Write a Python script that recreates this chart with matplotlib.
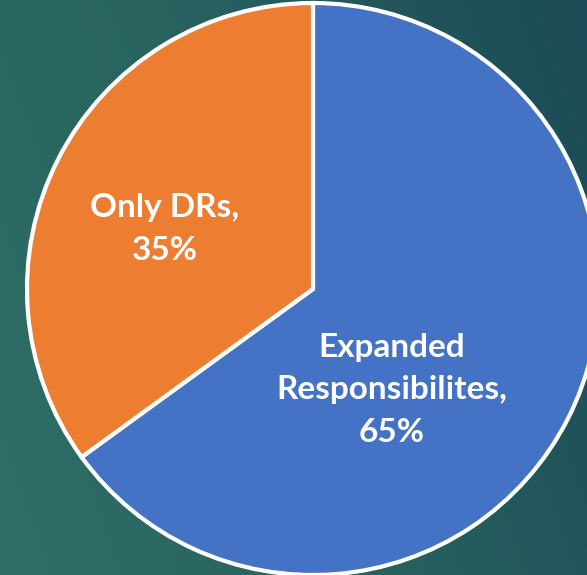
import numpy as np
import matplotlib
matplotlib.use('Agg')
import matplotlib.pyplot as plt
from matplotlib.colors import LinearSegmentedColormap

labels = ['Expanded\nResponsibilites,', 'Only DRs,']
shares = [65, 35]
colors = ['#4472C4', '#ED7D31']

W, H = 587, 575
fig = plt.figure(figsize=(W / 100, H / 100), dpi=100)

# background gradient, lighter teal at left going darker to upper right
bg = fig.add_axes([0, 0, 1, 1])
xx, yy = np.meshgrid(np.linspace(0, 1, 300), np.linspace(0, 1, 300))
grad = 0.75 * xx + 0.25 * (1 - yy)
cmap = LinearSegmentedColormap.from_list('bg', ['#2f6e66', '#27615f', '#1c4a56'])
bg.imshow(grad, cmap=cmap, aspect='auto', extent=[0, 1, 0, 1], origin='upper')
bg.axis('off')

# pie axes: centre at (313, 289) px, radius 286 px
cx, cy, r = 313, 289, 286
ax = fig.add_axes([(cx - r) / W, (H - cy - r) / H, 2 * r / W, 2 * r / H])
wedges, _ = ax.pie(shares, colors=colors, startangle=90, counterclock=False,
                   radius=1, wedgeprops=dict(edgecolor='white', linewidth=3))
ax.set_xlim(-1, 1)
ax.set_ylim(-1, 1)
ax.axis('off')

font = dict(color='white', fontweight='bold', fontsize=24, family='Lato',
            ha='center', va='center', linespacing=1.58)
pos = [((392 - cx) / r, (cy - 390) / r), ((165 - cx) / r, (cy - 229) / r)]
for lab, val, (px, py) in zip(labels, shares, pos):
    ax.text(px, py, '%s\n%d%%' % (lab, val), **font)

fig.savefig('out.png', dpi=100)
